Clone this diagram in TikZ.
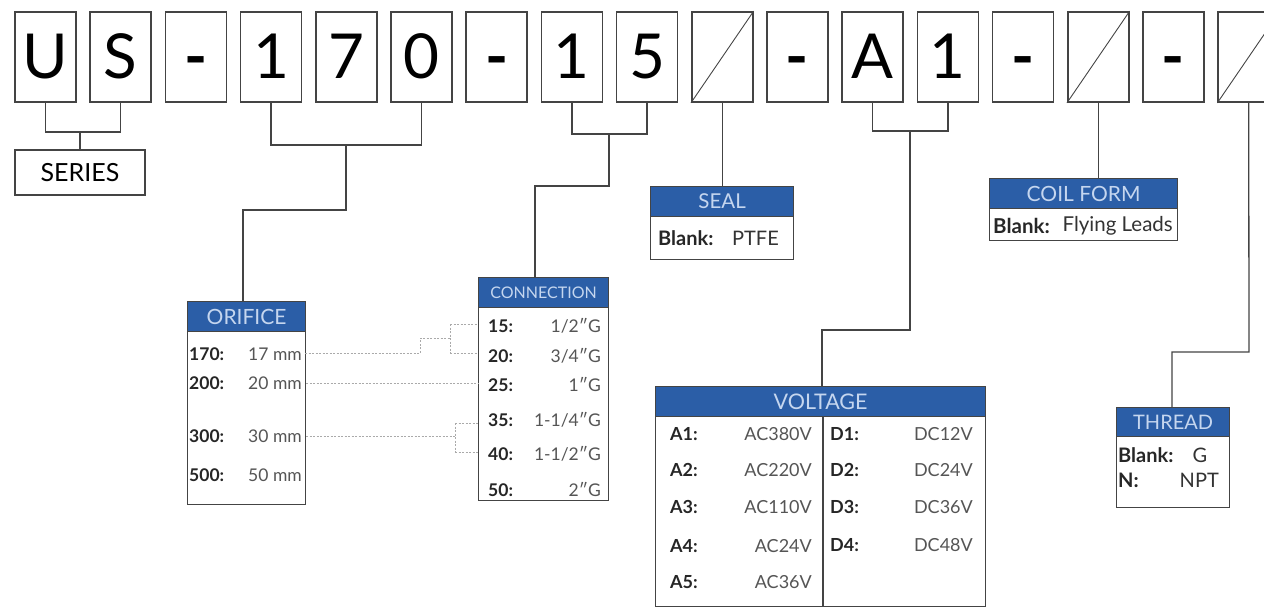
\documentclass[tikz,border=0pt]{standalone}
\usepackage{fontspec}
\setmainfont{Lato}
\definecolor{hdrblue}{HTML}{2B5EA7}
\definecolor{hdrtxt}{HTML}{C5D6EF}
\definecolor{linegray}{HTML}{444444}
\definecolor{valgray}{HTML}{555555}
\definecolor{dashgray}{HTML}{AAAAAA}
\tikzset{
  codebox/.style={draw=linegray, line width=1.6pt, minimum width=61pt, minimum height=90pt, inner sep=0pt, text height=44pt, text depth=0pt, font=\fontsize{62}{62}\selectfont},
  lnk/.style={draw=linegray, line width=1.3pt},
  hdr/.style={fill=hdrblue, draw=linegray, line width=1.2pt, text=hdrtxt, inner sep=0pt, anchor=north west},
  bodybox/.style={draw=linegray, line width=1.2pt, fill=white, inner sep=0pt, anchor=north west},
  lab/.style={anchor=west, inner sep=0pt, text=black!85, execute at begin node=\bfseries},
  val/.style={anchor=east, inner sep=0pt, text=valgray},
  dsh/.style={draw=dashgray, line width=0.8pt, dash pattern=on 2pt off 1.5pt},
}
\begin{document}
\begin{tikzpicture}[x=1pt,y=-1pt]
\useasboundingbox (0,0) rectangle (1264,607);
% top code boxes
\foreach \c [count=\i from 0] in {U,S,\textbf{-},1,7,0,\textbf{-},1,5,{},\textbf{-},A,1,\textbf{-},{},\textbf{-},{}} {
  \node[codebox] (b\i) at ({15+75.2*\i+30.5},57) {\c};
}
\foreach \i in {9,14,16} { \draw[linegray, line width=0.9pt] (b\i.south west) -- (b\i.north east); }

% SERIES
\node[draw=linegray, line width=1.3pt, minimum width=130pt, minimum height=45pt, inner sep=0pt, font=\fontsize{25}{25}\selectfont] (series) at (80,172.5) {SERIES};
\coordinate (j0) at (80,132);
\draw[lnk] (b0.south) |- (j0) -| (b1.south);
\draw[lnk] (j0) -- (series.north);

% ORIFICE
\node[bodybox, minimum width=118pt, minimum height=173pt] (orib) at (187,331) {};
\node[hdr, minimum width=118pt, minimum height=30pt, font=\fontsize{21}{21}\selectfont] (ori) at (187,301) {ORIFICE};
\coordinate (j1) at (346,145);
\coordinate (j1b) at (346,210);
\draw[lnk] (b3.south) |- (j1) -| (b5.south);
\draw[lnk] (j1) -- (j1b) -| (ori.north -| 243,0);
\begin{scope}[font=\fontsize{17.5}{17.5}\selectfont]
\node[lab] (o1l) at (189,354) {170:}; \node[val] (o1v) at (302,354) {17 mm};
\node[lab] (o2l) at (189,383) {200:}; \node[val] (o2v) at (302,383) {20 mm};
\node[lab] (o3l) at (189,436) {300:}; \node[val] (o3v) at (302,436) {30 mm};
\node[lab] (o4l) at (189,475) {500:}; \node[val] (o4v) at (302,475) {50 mm};
\end{scope}

% CONNECTION
\node[bodybox, minimum width=130pt, minimum height=193pt] (conb) at (478,307) {};
\node[hdr, minimum width=130pt, minimum height=30pt, font=\fontsize{16}{16}\selectfont] (con) at (478,277) {CONNECTION};
\coordinate (j2) at (609,134);
\coordinate (j2b) at (609,186);
\draw[lnk] (b7.south) |- (j2) -| (b8.south);
\draw[lnk] (j2) -- (j2b) -| (con.north -| 535,0);
\begin{scope}[font=\fontsize{17.5}{17.5}\selectfont]
\node[lab] (c1l) at (488,326) {15:}; \node[val] (c1v) at (601,326) {1/2″G};
\node[lab] (c2l) at (488,356) {20:}; \node[val] (c2v) at (601,356) {3/4″G};
\node[lab] (c3l) at (488,385) {25:}; \node[val] (c3v) at (601,385) {1″G};
\node[lab] (c4l) at (488,420) {35:}; \node[val] (c4v) at (601,420) {1-1/4″G};
\node[lab] (c5l) at (488,454) {40:}; \node[val] (c5v) at (601,454) {1-1/2″G};
\node[lab] (c6l) at (488,490) {50:}; \node[val] (c6v) at (601,490) {2″G};
\end{scope}

% dashed links
\coordinate (d1a) at (420,353);
\coordinate (d1b) at (420,338);
\coordinate (d1c) at (450,338);
\coordinate (d1t) at (450,324);
\coordinate (d1u) at (450,353);
\draw[dsh] (305,353) -- (d1a) -- (d1b) -- (d1c);
\draw[dsh] (d1t) -- (d1u);
\draw[dsh] (d1t) -- (conb.west |- d1t);
\draw[dsh] (d1u) -- (conb.west |- d1u);
\draw[dsh] (orib.east |- 0,383) -- (conb.west |- 0,383);
\coordinate (d3a) at (455,436);
\coordinate (d3t) at (455,423);
\coordinate (d3u) at (455,452);
\draw[dsh] (orib.east |- d3a) -- (d3a);
\draw[dsh] (d3t) -- (d3u);
\draw[dsh] (d3t) -- (conb.west |- d3t);
\draw[dsh] (d3u) -- (conb.west |- d3u);

% SEAL
\node[bodybox, minimum width=143pt, minimum height=43pt] (sealb) at (650,216) {};
\node[hdr, minimum width=143pt, minimum height=30pt, font=\fontsize{20.5}{20.5}\selectfont] (seal) at (650,186) {SEAL};
\draw[lnk] (b9.south) -- (seal.north -| b9.south);
\begin{scope}[font=\fontsize{20}{20}\selectfont]
\node[lab] (s1l) at (658,238) {Blank:}; \node[val, text=black!80] (s1v) at (779,238) {PTFE};
\end{scope}

% VOLTAGE
\node[bodybox, minimum width=330pt, minimum height=190pt] (volb) at (655,416) {};
\node[hdr, minimum width=330pt, minimum height=30pt, font=\fontsize{21.5}{21.5}\selectfont] (vol) at (655,386) {VOLTAGE};
\draw[lnk] (823,416) -- (823,606);
\coordinate (j3) at (910,131);
\coordinate (j3b) at (910,330);
\draw[lnk] (b11.south) |- (j3) -| (b12.south);
\draw[lnk] (j3) -- (j3b) -| (vol.north -| 822,0);
\begin{scope}[font=\fontsize{18}{18}\selectfont]
\node[lab] (a1l) at (670,434) {A1:}; \node[val] (a1v) at (812,434) {AC380V};
\node[lab] (a2l) at (670,470) {A2:}; \node[val] (a2v) at (812,470) {AC220V};
\node[lab] (a3l) at (670,507) {A3:}; \node[val] (a3v) at (812,507) {AC110V};
\node[lab] (a4l) at (670,546) {A4:}; \node[val] (a4v) at (812,546) {AC24V};
\node[lab] (a5l) at (670,582) {A5:}; \node[val] (a5v) at (812,582) {AC36V};
\node[lab] (e1l) at (830,434) {D1:}; \node[val] (e1v) at (973,434) {DC12V};
\node[lab] (e2l) at (830,470) {D2:}; \node[val] (e2v) at (973,470) {DC24V};
\node[lab] (e3l) at (830,507) {D3:}; \node[val] (e3v) at (973,507) {DC36V};
\node[lab] (e4l) at (830,545) {D4:}; \node[val] (e4v) at (973,545) {DC48V};
\end{scope}

% COIL FORM
\node[bodybox, minimum width=188pt, minimum height=32pt] (coilb) at (989,208) {};
\node[hdr, minimum width=188pt, minimum height=30pt, font=\fontsize{21}{21}\selectfont] (coil) at (989,178) {COIL FORM};
\draw[lnk] (b14.south) -- (coil.north -| b14.south);
\begin{scope}[font=\fontsize{20.5}{20.5}\selectfont]
\node[lab] (k1l) at (993,226) {Blank:}; \node[val, text=black!80] (k1v) at (1173,226) {Flying Leads};
\end{scope}

% THREAD
\node[bodybox, minimum width=113pt, minimum height=71pt] (thrb) at (1116,436) {};
\node[hdr, minimum width=113pt, minimum height=29pt, font=\fontsize{20}{20}\selectfont] (thr) at (1116,407) {THREAD};
\coordinate (j4) at (1249,352);
\draw[lnk] (b16.south) -- (j4) -| (thr.north -| 1172,0);
\begin{scope}[font=\fontsize{20}{20}\selectfont]
\node[lab] (t1l) at (1118,455) {Blank:}; \node[text=black!80, inner sep=0pt] (t1v) at (1200,455) {G};
\node[lab] (t2l) at (1118,480) {N:}; \node[val, text=black!80] (t2v) at (1219,480) {NPT};
\end{scope}
\end{tikzpicture}
\end{document}
